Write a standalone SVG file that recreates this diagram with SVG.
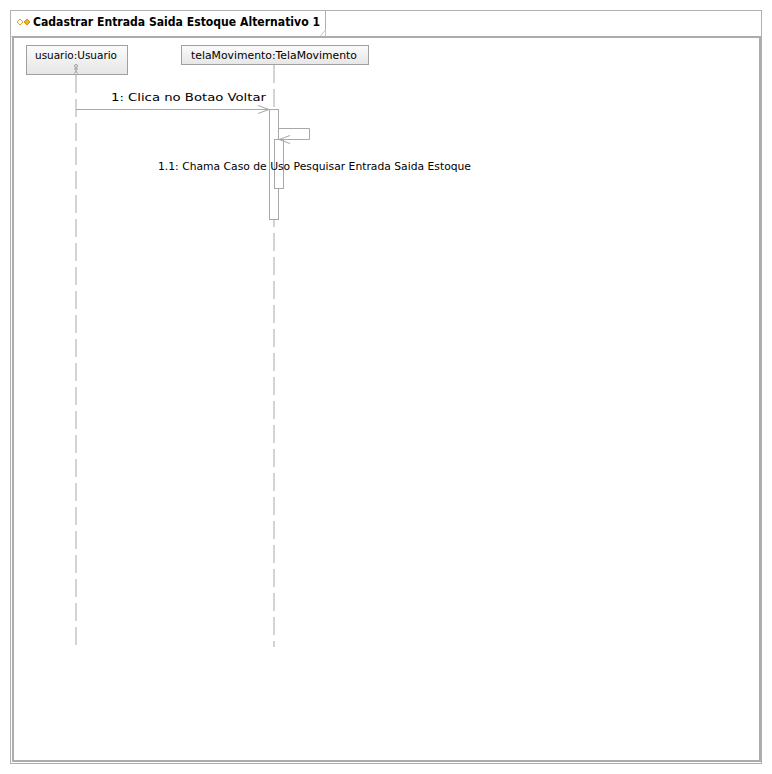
<svg xmlns="http://www.w3.org/2000/svg" width="772" height="774" viewBox="0 0 772 774">
<style>
text{font-family:"DejaVu Sans","Liberation Sans",sans-serif;font-size:11px;fill:#000}
.t{font-weight:bold;font-size:12px}
.ln{stroke:#a8a8a8;stroke-width:1;fill:none}
.life{stroke:#a8a8a8;stroke-width:1;stroke-dasharray:18 6;fill:none}
.act{fill:#fff;stroke:#a8a8a8;stroke-width:1}
.hd{fill:url(#g);stroke:#a0a0a0;stroke-width:1}
</style>
<defs>
<linearGradient id="g" x1="0" y1="0" x2="0" y2="1"><stop offset="0" stop-color="#fbfbfb"/><stop offset="1" stop-color="#e6e6e6"/></linearGradient>
<marker id="op" markerWidth="12" markerHeight="10" refX="11" refY="5" orient="auto" markerUnits="userSpaceOnUse"><path d="M0,1 L11,5 L0,9" fill="none" stroke="#a8a8a8" stroke-width="1"/></marker>
</defs>
<rect width="772" height="774" fill="#fff"/>
<g id="frame">
<rect x="10.5" y="10.5" width="751" height="753" fill="#fff" stroke="#b0b0b0" stroke-width="1"/>
<path d="M10.5,36.5 H325.5 V30 L320,36.5" fill="none" stroke="#c8c8c8" stroke-width="1"/>
<path d="M325.5,10.5 V30" stroke="#b0b0b0" fill="none"/>
<rect x="13" y="37" width="747" height="724" fill="#fff" stroke="#acacac" stroke-width="2"/>
<path d="M17,22 L20,19 L23,22 L20,25 Z" fill="none" stroke="#e8a020" stroke-width="1"/>
<path d="M24,22 L27,19 L30,22 L27,25 Z" fill="#f0b030" stroke="#d89010" stroke-width="1"/>
<text class="t" x="33" y="26" textLength="287" lengthAdjust="spacingAndGlyphs">Cadastrar Entrada Saida Estoque Alternativo 1</text>
</g>
<g id="usuario">
<rect class="hd" x="26.5" y="45.5" width="101" height="29"/>
<text x="35" y="59" textLength="82" lengthAdjust="spacingAndGlyphs">usuario:Usuario</text>
<g stroke="#a0a0a0" stroke-width="1" fill="none"><circle cx="76" cy="66" r="1.5"/><path d="M76,67.5 V71 M74,69 H78 M76,71 L74.5,73.5 M76,71 L77.5,73.5"/></g>
</g>
<g id="telaMovimento">
<rect class="hd" x="181.5" y="45.5" width="187" height="19"/>
<text x="191" y="59" textLength="166" lengthAdjust="spacingAndGlyphs">telaMovimento:TelaMovimento</text>
</g>
<g id="connectors">
<line class="life" x1="76" y1="75" x2="76" y2="646"/>
<line class="life" x1="274" y1="65" x2="274" y2="647"/>
<rect class="act" x="269.5" y="109.5" width="9" height="110"/>
<rect class="act" x="274.5" y="139.5" width="9" height="49"/>
<line class="ln" x1="76" y1="109.5" x2="269" y2="109.5" marker-end="url(#op)"/>
<text x="111" y="101" textLength="155" lengthAdjust="spacingAndGlyphs">1: Clica no Botao Voltar</text>
<path class="ln" d="M279,128.5 H309.5 V139.5 H279" marker-end="url(#op)"/>
<text x="158" y="170" textLength="313" lengthAdjust="spacingAndGlyphs">1.1: Chama Caso de Uso Pesquisar Entrada Saida Estoque</text>
</g>
</svg>
